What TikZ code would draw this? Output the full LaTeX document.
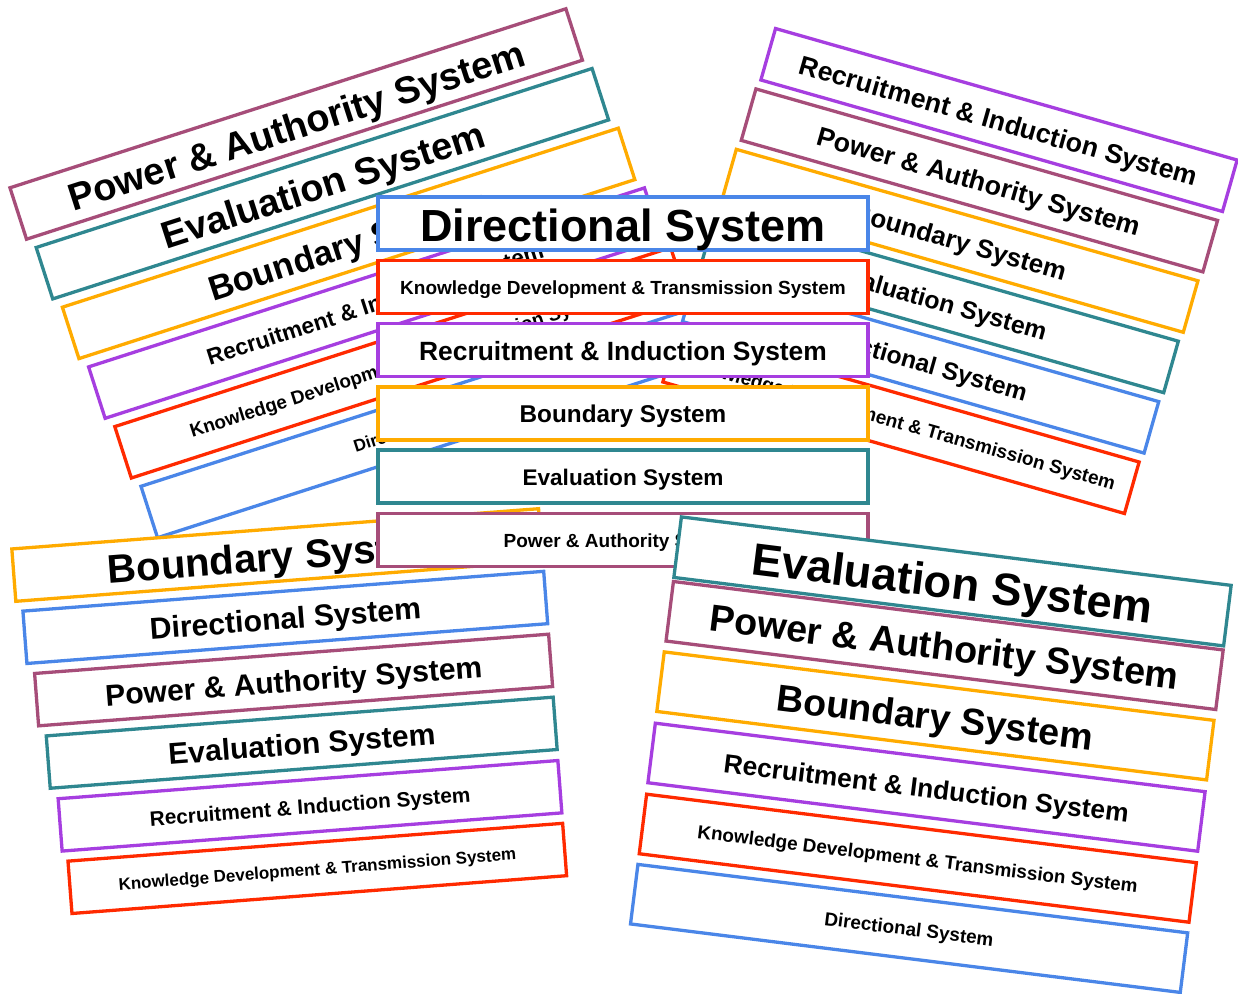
\documentclass[tikz,border=0pt]{standalone}
\usepackage{fontspec}
\setmainfont{Liberation Sans}
\definecolor{cmauve}{HTML}{A64D79}
\definecolor{cteal}{HTML}{2F8790}
\definecolor{corange}{HTML}{FFAB00}
\definecolor{cpurple}{HTML}{A63EE0}
\definecolor{cred}{HTML}{FF2A00}
\definecolor{cblue}{HTML}{4A86E8}
% label text: caps centred on the strip's middle line
\newcommand\lbl[2]{\fontsize{#1}{#1}\selectfont\raisebox{-.39em}[0pt][0pt]{#2}}
\tikzset{
  strip/.style={draw=#1, fill=white, line width=3.3pt, inner sep=0pt, font=\bfseries},
  astrip/.style={strip=#1, rotate=17.85, minimum width=584pt, minimum height=54pt},
  bstrip/.style={strip=#1, rotate=-15.9, minimum width=480pt, minimum height=53.5pt},
  dstrip/.style={strip=#1, rotate=4.37, minimum height=52.5pt},
  cstrip/.style={strip=#1, minimum width=490pt, minimum height=53pt},
  estrip/.style={strip=#1, rotate=-7.1, minimum width=554pt, minimum height=60pt},
}
\begin{document}
\begin{tikzpicture}[x=1pt,y=-1pt]
\useasboundingbox (0,0) rectangle (1238,993);
\fill[white] (0,0) rectangle (1238,993);
% upper left stack
\node[astrip=cmauve]  (a1) at (296.2,124)   {\lbl{38}{Power \& Authority System}};
\node[astrip=cteal]   (a2) at (322.4,183.7) {\lbl{38}{Evaluation System}};
\node[astrip=corange] (a3) at (348.6,243.4) {\lbl{34.5}{Boundary System}};
\node[astrip=cpurple] (a4) at (374.8,303.1) {\lbl{22.8}{Recruitment \& Induction System}};
\node[astrip=cred]    (a5) at (401,362.8)   {\lbl{18.9}{Knowledge Development \& Transmission System}};
\node[astrip=cblue]   (a6) at (427.2,422.5) {\lbl{17.1}{Directional System}};
% upper right stack
\node[bstrip=cpurple] (b1) at (999,120)     {\lbl{26.7}{Recruitment \& Induction System}};
\node[bstrip=cmauve]  (b2) at (979.4,180.4) {\lbl{26.7}{Power \& Authority System}};
\node[bstrip=corange] (b3) at (959.8,240.8) {\lbl{26}{Boundary System}};
\node[bstrip=cteal]   (b4) at (940.2,301.2) {\lbl{24.9}{Evaluation System}};
\node[bstrip=cblue]   (b5) at (920.6,361.6) {\lbl{24.6}{Directional System}};
\node[bstrip=cred]    (b6) at (901,422)     {\lbl{19}{Knowledge Development \& Transmission System}};
% lower left stack
\node[dstrip=corange, minimum width=528.3pt] (d1) at (277.2,555)   {\lbl{40}{Boundary System}};
\node[dstrip=cblue,   minimum width=522.3pt] (d2) at (285.3,617.4) {\lbl{30.2}{Directional System}};
\node[dstrip=cmauve,  minimum width=515.5pt] (d3) at (293.6,680)   {\lbl{30.1}{Power \& Authority System}};
\node[dstrip=cteal,   minimum width=508.4pt] (d4) at (301.7,742.7) {\lbl{30.1}{Evaluation System}};
\node[dstrip=cpurple, minimum width=501.2pt] (d5) at (310,805.8)   {\lbl{20.8}{Recruitment \& Induction System}};
\node[dstrip=cred,    minimum width=496.1pt] (d6) at (317.3,868.4) {\lbl{17}{Knowledge Development \& Transmission System}};
% middle stack
\node[cstrip=cblue]   (c1) at (623,223.5)  {\lbl{45}{Directional System}};
\node[cstrip=cred]    (c2) at (623,287)    {\lbl{19}{Knowledge Development \& Transmission System}};
\node[cstrip=cpurple] (c3) at (623,349.75) {\lbl{26.4}{Recruitment \& Induction System}};
\node[cstrip=corange] (c4) at (623,413.5)  {\lbl{24.3}{Boundary System}};
\node[cstrip=cteal]   (c5) at (623,476.5)  {\lbl{22.6}{Evaluation System}};
\node[cstrip=cmauve]  (c6) at (623,540.25) {\lbl{19}{Power \& Authority System}};
% lower right stack
\node[estrip=cteal, minimum height=61pt] (e1) at (952.5,581.4) {\lbl{45.3}{Evaluation System}};
\node[estrip=cmauve]  (e2) at (944.6,645.5) {\lbl{37.6}{Power \& Authority System}};
\node[estrip=corange] (e3) at (935.4,715.9) {\lbl{37.5}{Boundary System}};
\node[estrip=cpurple] (e4) at (926.5,787.2) {\lbl{26.4}{Recruitment \& Induction System}};
\node[estrip=cred]    (e5) at (917.8,858.2) {\lbl{18.9}{Knowledge Development \& Transmission System}};
\node[estrip=cblue]   (e6) at (909.1,928.4) {\lbl{18.9}{Directional System}};
\end{tikzpicture}
\end{document}
